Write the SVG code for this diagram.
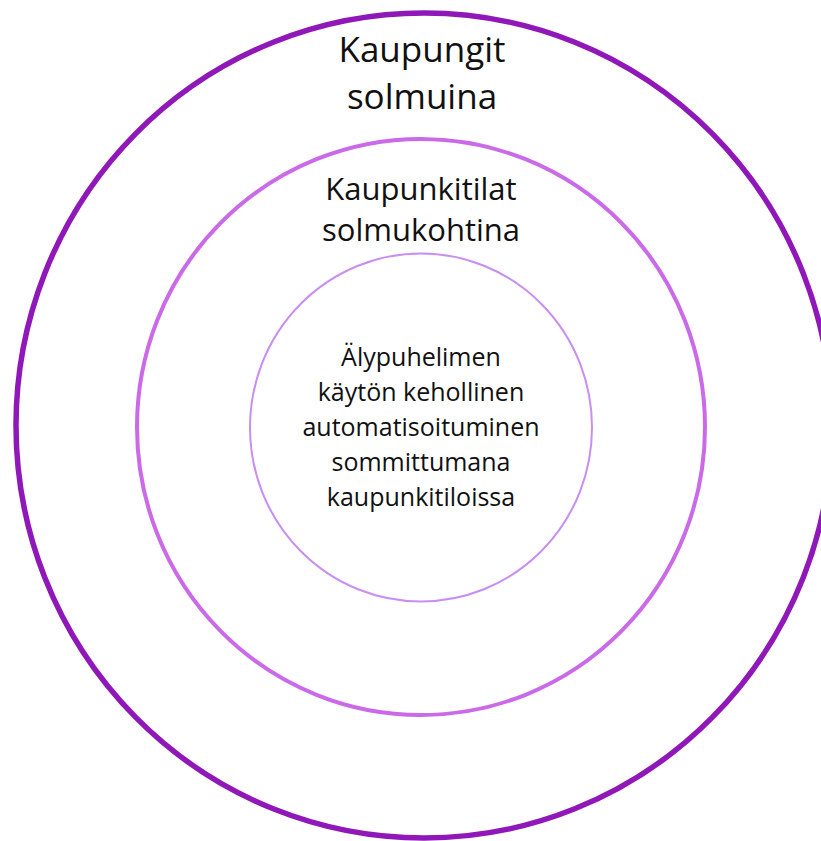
<svg xmlns="http://www.w3.org/2000/svg" width="821" height="841" viewBox="0 0 821 841">
<style>
.t{font-family:"Open Sans","Noto Sans",sans-serif;fill:#111;text-anchor:middle}
.big{font-size:35px}
.mid{font-size:31px}
.sm{font-size:25px}
</style>
<rect width="821" height="841" fill="#fff"/>
<g id="outer">
<ellipse cx="424" cy="425.5" rx="408" ry="412.5" fill="none" stroke="#9118b8" stroke-width="5.5"/>
<text class="t big" x="422" y="62">Kaupungit</text>
<text class="t big" x="422" y="109">solmuina</text>
</g>
<g id="middle">
<ellipse cx="421" cy="427" rx="284" ry="288" fill="none" stroke="#cb6ae8" stroke-width="4"/>
<text class="t mid" x="421" y="200">Kaupunkitilat</text>
<text class="t mid" x="421" y="241">solmukohtina</text>
</g>
<g id="inner">
<ellipse cx="421" cy="427.5" rx="171" ry="174" fill="none" stroke="#c88ef2" stroke-width="2"/>
<text class="t sm" x="421" y="366">Älypuhelimen</text>
<text class="t sm" x="421" y="401">käytön kehollinen</text>
<text class="t sm" x="421" y="436">automatisoituminen</text>
<text class="t sm" x="421" y="471">sommittumana</text>
<text class="t sm" x="421" y="506">kaupunkitiloissa</text>
</g>
<g id="connectors"/>
</svg>
